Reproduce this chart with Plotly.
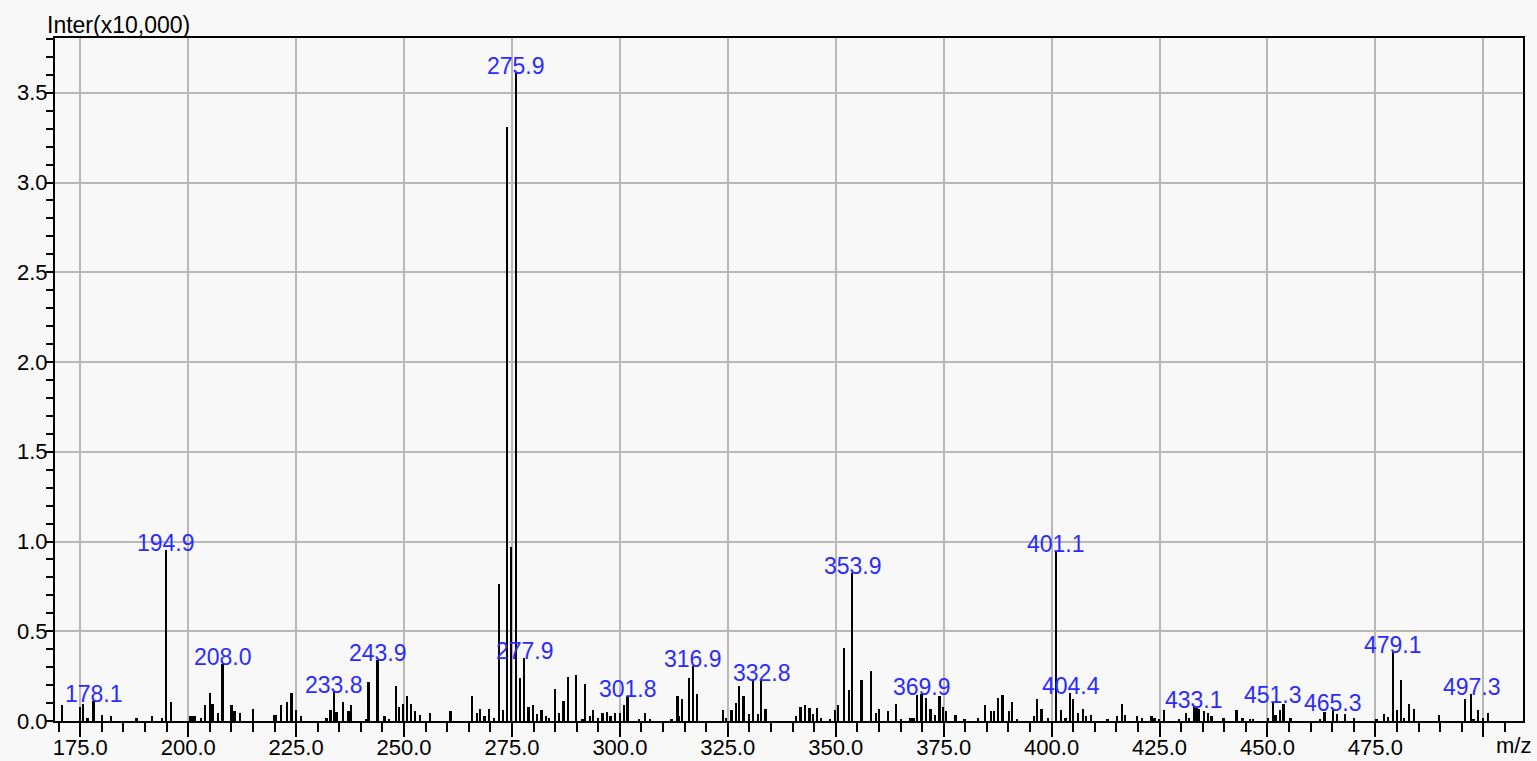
import plotly.graph_objects as go

# m/z values of the peaks
mz = [170.8, 174.9, 175.6, 176.7, 178.1, 180.0, 182.1, 188.1, 191.6, 193.9,
      194.9, 196.0, 200.6, 201.1, 201.6, 203.0, 204.0, 205.1, 205.7, 206.9,
      208.0, 210.1, 210.8, 212.0, 215.0, 219.9, 220.4, 221.5, 222.9, 224.0,
      225.0, 226.1, 232.1, 233.0, 233.8, 234.4, 236.0, 237.2, 237.8, 241.2,
      241.8, 243.9, 245.5, 246.6, 248.1, 248.8, 249.8, 250.8, 251.6, 252.6,
      253.8, 256.0, 260.8, 265.8, 266.9, 267.6, 268.7, 269.7, 270.9, 272.0,
      273.0, 273.9, 274.9, 275.9, 277.0, 277.9, 278.9, 279.9, 280.8, 281.9,
      282.9, 283.6, 285.1, 285.9, 287.0, 288.0, 289.8, 291.4, 292.0, 293.1,
      293.8, 295.0, 296.0, 297.0, 297.9, 298.9, 300.0, 301.0, 301.8, 304.4,
      305.8, 307.0, 312.0, 313.4, 313.8, 314.5, 316.0, 316.9, 317.9, 324.0,
      324.7, 325.9, 326.9, 327.7, 328.7, 329.9, 330.9, 332.1, 332.8, 333.8,
      340.8, 341.9, 342.9, 344.0, 344.8, 345.8, 346.6, 348.8, 349.8, 350.6,
      352.0, 353.1, 353.9, 356.0, 358.2, 359.3, 360.0, 362.2, 364.0, 365.1,
      367.2, 367.7, 368.1, 368.8, 369.9, 370.9, 372.0, 373.0, 374.1, 374.9,
      375.6, 377.8, 379.9, 383.0, 384.7, 386.1, 386.8, 387.6, 388.7, 390.1,
      390.8, 392.0, 396.0, 396.7, 397.7, 399.2, 401.1, 402.2, 403.3, 404.4,
      405.1, 406.2, 407.3, 408.0, 409.1, 413.0, 415.2, 416.3, 417.0, 419.9,
      421.0, 423.2, 423.9, 425.0, 426.1, 429.5, 431.2, 431.9, 433.1, 433.6,
      434.1, 435.3, 436.3, 437.1, 439.9, 442.9, 444.3, 446.1, 446.8, 450.2,
      451.3, 451.9, 453.0, 453.8, 455.4, 462.2, 463.3, 465.3, 466.1, 468.0,
      470.1, 475.3, 477.1, 478.0, 479.1, 480.0, 481.0, 481.7, 482.9, 484.0,
      489.8, 495.9, 497.3, 497.8, 498.9, 500.0, 501.1]

# intensities (x10,000)
inten = [0.087, 0.078, 0.097, 0.019, 0.111, 0.035, 0.026, 0.019, 0.026, 0.019,
         0.953, 0.106, 0.026, 0.026, 0.026, 0.019, 0.087, 0.158, 0.097, 0.045,
         0.320, 0.087, 0.054, 0.045, 0.069, 0.035, 0.035, 0.087, 0.106, 0.158,
         0.063, 0.026, 0.017, 0.063, 0.161, 0.050, 0.106, 0.054, 0.087, 0.007,
         0.217, 0.338, 0.026, 0.009, 0.193, 0.078, 0.097, 0.139, 0.097, 0.054,
         0.035, 0.045, 0.054, 0.139, 0.045, 0.069, 0.026, 0.069, 0.017, 0.765,
         0.060, 3.307, 0.971, 3.608, 0.237, 0.349, 0.080, 0.089, 0.039, 0.061,
         0.028, 0.019, 0.177, 0.045, 0.114, 0.245, 0.255, 0.008, 0.204, 0.028,
         0.061, 0.019, 0.045, 0.050, 0.028, 0.045, 0.045, 0.089, 0.139, 0.009,
         0.045, 0.009, 0.009, 0.141, 0.028, 0.123, 0.238, 0.305, 0.152, 0.061,
         0.019, 0.061, 0.098, 0.195, 0.141, 0.037, 0.228, 0.037, 0.228, 0.065,
         0.028, 0.080, 0.089, 0.071, 0.037, 0.071, 0.019, 0.009, 0.061, 0.089,
         0.408, 0.170, 0.825, 0.227, 0.279, 0.045, 0.069, 0.054, 0.097, 0.007,
         0.017, 0.017, 0.017, 0.147, 0.152, 0.130, 0.069, 0.035, 0.139, 0.078,
         0.054, 0.035, 0.007, 0.017, 0.087, 0.054, 0.054, 0.130, 0.147, 0.054,
         0.106, 0.007, 0.026, 0.125, 0.069, 0.017, 0.949, 0.063, 0.017, 0.158,
         0.125, 0.045, 0.069, 0.026, 0.035, 0.007, 0.026, 0.097, 0.035, 0.026,
         0.017, 0.026, 0.017, 0.013, 0.063, 0.007, 0.045, 0.019, 0.078, 0.075,
         0.069, 0.054, 0.045, 0.026, 0.017, 0.063, 0.017, 0.007, 0.007, 0.017,
         0.106, 0.035, 0.059, 0.095, 0.017, 0.007, 0.050, 0.063, 0.041, 0.041,
         0.017, 0.007, 0.041, 0.022, 0.385, 0.060, 0.227, 0.017, 0.097, 0.069,
         0.035, 0.125, 0.152, 0.013, 0.063, 0.017, 0.045]

# labelled peaks
label_mz = [178.1, 194.9, 208.0, 233.8, 243.9, 275.9, 277.9, 301.8, 316.9,
            332.8, 353.9, 369.9, 401.1, 404.4, 433.1, 451.3, 465.3, 479.1, 497.3]

x_tickvals = [175, 200, 225, 250, 275, 300, 325, 350, 375, 400, 425, 450, 475, 500]
x_ticktext = ["175.0", "200.0", "225.0", "250.0", "275.0", "300.0", "325.0",
              "350.0", "375.0", "400.0", "425.0", "450.0", "475.0", ""]
y_tickvals = [0.0, 0.5, 1.0, 1.5, 2.0, 2.5, 3.0, 3.5]
y_ticktext = ["0.0", "0.5", "1.0", "1.5", "2.0", "2.5", "3.0", "3.5"]

FONT = "Liberation Sans, Arial, sans-serif"
BG = "#f8f8f8"
GRID = "#b8b8b8"
BLUE = "#2b2bff"

fig = go.Figure()
fig.add_trace(go.Bar(x=mz, y=inten, width=0.4,
                     marker=dict(color="black", line=dict(width=0)),
                     showlegend=False, hoverinfo="x+y"))

lookup = dict(zip(mz, inten))
for lm in label_mz:
    fig.add_annotation(x=lm, y=lookup[lm], text=f"{lm:.1f}", showarrow=False,
                       xanchor="center", yanchor="bottom", yshift=-8,
                       font=dict(family=FONT, size=23, color=BLUE))

fig.add_annotation(xref="paper", yref="paper", x=-0.007, y=1.019,
                   xanchor="left", yanchor="middle", showarrow=False,
                   text="Inter(x10,000)", font=dict(family=FONT, size=23, color="black"))
fig.add_annotation(xref="paper", yref="paper", x=0.9932, y=-0.0366,
                   xanchor="center", yanchor="middle", showarrow=False,
                   text="m/z", font=dict(family=FONT, size=22, color="black"))

fig.update_layout(
    width=1537, height=761,
    margin=dict(l=55, r=14, t=38, b=40, pad=0),
    paper_bgcolor=BG, plot_bgcolor=BG,
    bargap=0,
    font=dict(family=FONT, size=22, color="black"),
)
fig.update_xaxes(
    range=[169.14, 509.2], tickvals=x_tickvals, ticktext=x_ticktext,
    showgrid=True, gridcolor=GRID, gridwidth=2,
    showline=True, linecolor="black", linewidth=2, mirror=True,
    ticks="outside", ticklen=14, tickwidth=2, tickcolor="black",
    minor=dict(dtick=5, tick0=175, ticks="outside", ticklen=9, tickwidth=2,
               tickcolor="black", showgrid=False),
    zeroline=False, automargin=False, ticklabelstandoff=-8,
    tickfont=dict(family=FONT, size=22, color="black"),
)
fig.update_yaxes(
    range=[0, 3.805], tickvals=y_tickvals, ticktext=y_ticktext,
    showgrid=True, gridcolor=GRID, gridwidth=2,
    showline=True, linecolor="black", linewidth=2, mirror=True,
    ticks="outside", ticklen=7, tickwidth=2, tickcolor="black",
    minor=dict(dtick=0.1, tick0=0, ticks="outside", ticklen=7, tickwidth=2,
               tickcolor="black", showgrid=False),
    zeroline=False, automargin=False, ticklabelstandoff=-6,
    tickfont=dict(family=FONT, size=22, color="black"),
)

fig.write_html(
    "out.html",
    config={"displayModeBar": False},
    post_script="document.body.style.margin='0';"
                "document.body.style.padding='0';"
                "document.body.style.background='" + BG + "';"
                "document.body.style.overflow='hidden';",
)
